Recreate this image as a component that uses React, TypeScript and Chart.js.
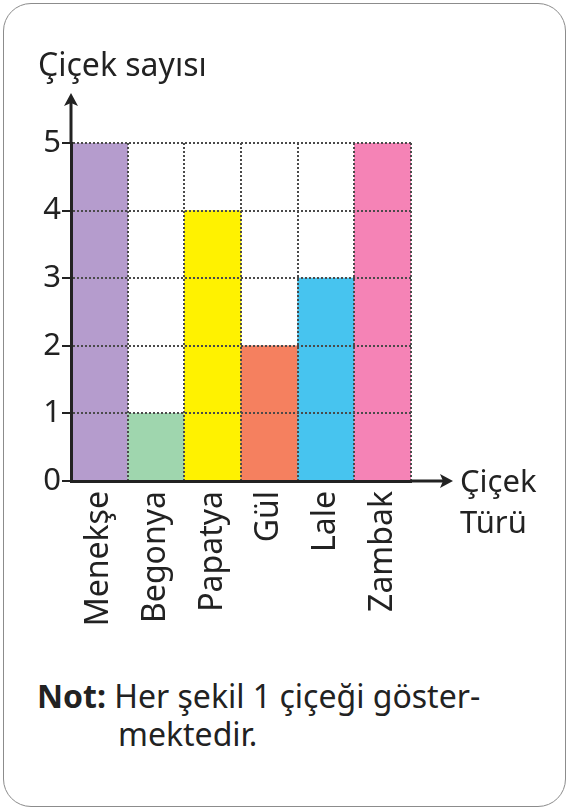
import React, { useEffect, useRef } from "react";
import { Chart, registerables } from "chart.js";

Chart.register(...registerables);

const categories = ["Menekşe", "Begonya", "Papatya", "Gül", "Lale", "Zambak"];
const counts = [5, 1, 4, 2, 3, 5];
const barColors = ["#B59CCD", "#9FD6AE", "#FFF200", "#F5805F", "#47C4EF", "#F583B6"];
const yTicks = [0, 1, 2, 3, 4, 5];
const yTitle = "Çiçek sayısı";
const xTitle = ["Çiçek", "Türü"];

const FONT = '"Noto Sans", "DejaVu Sans", sans-serif';

const decor = {
  id: "decor",
  afterDraw(chart: any) {
    const { ctx, chartArea: a } = chart;
    ctx.save();
    ctx.strokeStyle = "#222";
    ctx.fillStyle = "#222";
    ctx.lineWidth = 3;
    // y axis arrow
    const yTip = a.top - 50;
    ctx.beginPath();
    ctx.moveTo(a.left, a.top);
    ctx.lineTo(a.left, yTip + 8);
    ctx.stroke();
    ctx.beginPath();
    ctx.moveTo(a.left, yTip);
    ctx.lineTo(a.left - 7, yTip + 13);
    ctx.lineTo(a.left, yTip + 10);
    ctx.lineTo(a.left + 7, yTip + 13);
    ctx.closePath();
    ctx.fill();
    // x axis arrow
    const xTip = a.right + 42;
    ctx.beginPath();
    ctx.moveTo(a.right, a.bottom);
    ctx.lineTo(xTip - 8, a.bottom);
    ctx.stroke();
    ctx.beginPath();
    ctx.moveTo(xTip, a.bottom);
    ctx.lineTo(xTip - 13, a.bottom - 7);
    ctx.lineTo(xTip - 10, a.bottom);
    ctx.lineTo(xTip - 13, a.bottom + 7);
    ctx.closePath();
    ctx.fill();
    // titles
    ctx.textBaseline = "alphabetic";
    ctx.textAlign = "left";
    ctx.font = `32px ${FONT}`;
    ctx.fillText(yTitle, a.left - 33, a.top - 67);
    ctx.font = `31px ${FONT}`;
    ctx.fillText(xTitle[0], a.right + 49, a.bottom + 11);
    ctx.fillText(xTitle[1], a.right + 49, a.bottom + 52);
    ctx.restore();
  },
};

export default function App() {
  const ref = useRef<HTMLCanvasElement>(null);

  useEffect(() => {
    if (!ref.current) return;
    const chart = new Chart(ref.current, {
      type: "bar",
      data: {
        labels: categories,
        datasets: [
          {
            data: counts,
            backgroundColor: barColors,
            borderWidth: 0,
            barPercentage: 1,
            categoryPercentage: 1,
          },
        ],
      },
      options: {
        animation: false,
        responsive: false,
        devicePixelRatio: 1,
        layout: { padding: { top: 143, right: 159, left: 0, bottom: 0 } },
        plugins: {
          legend: { display: false },
          tooltip: { enabled: false },
        },
        scales: {
          x: {
            offset: true,
            grid: {
              z: 1,
              offset: true,
              color: "#4a4a4a",
              lineWidth: 2,
              drawTicks: false,
            },
            border: { display: true, color: "#222", width: 3, dash: [2, 2], z: 2 },
            ticks: {
              autoSkip: false,
              minRotation: 90,
              maxRotation: 90,
              padding: 10,
              color: "#222",
              font: { family: FONT, size: 32 },
            },
            afterFit: (s: any) => {
              s.height = 169;
            },
          },
          y: {
            min: 0,
            max: 5,
            afterBuildTicks: (s: any) => {
              s.ticks = yTicks.map((v) => ({ value: v }));
            },
            grid: {
              z: 1,
              color: "#4a4a4a",
              lineWidth: 2,
              tickBorderDash: [1, 0],
              tickColor: "#222",
              tickWidth: 2,
              tickLength: 9,
            },
            border: { display: true, color: "#222", width: 3, dash: [2, 2], z: 2 },
            ticks: {
              padding: 1,
              color: "#222",
              font: { family: FONT, size: 31 },
            },
            afterFit: (s: any) => {
              s.width = 71;
            },
          },
        },
      },
      plugins: [decor],
    });
    return () => chart.destroy();
  }, []);

  return (
    <div style={{ position: "absolute", left: 0, top: 0, width: 570, height: 811, background: "#fff", overflow: "hidden" }}>
      <div
        style={{
          position: "absolute",
          left: 3,
          top: 3,
          width: 561,
          height: 802,
          border: "1.5px solid #8c8c8c",
          borderRadius: 28,
          background: "#fff",
        }}
      />
      <canvas ref={ref} width={570} height={650} style={{ position: "absolute", left: 0, top: 0 }} />
      <div
        style={{
          position: "absolute",
          left: 37,
          top: 677,
          width: 520,
          fontFamily: FONT,
          fontSize: 32,
          lineHeight: "38px",
          color: "#222",
          whiteSpace: "nowrap",
        }}
      >
        <div>
          <b>Not:</b> Her şekil 1 çiçeği göster-
        </div>
        <div style={{ paddingLeft: 81 }}>mektedir.</div>
      </div>
    </div>
  );
}
